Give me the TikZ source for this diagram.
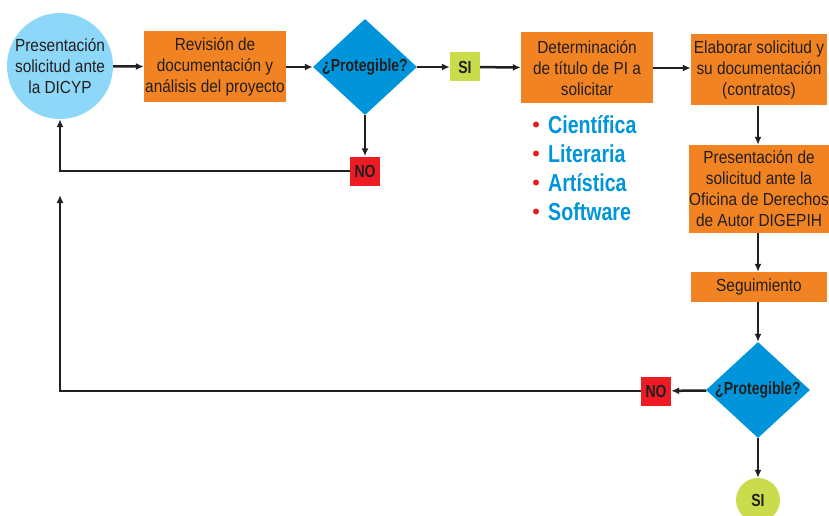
\documentclass[tikz,border=0pt]{standalone}
\usepackage{fontspec}
\setmainfont{Liberation Sans}[FakeStretch=0.88]
\newfontfamily\condbold{Liberation Sans}[FakeStretch=0.8]
\usetikzlibrary{shapes.geometric,arrows.meta}
\definecolor{ink}{HTML}{231F20}
\definecolor{naranja}{HTML}{F28322}
\definecolor{celeste}{HTML}{8DD8F8}
\definecolor{azul}{HTML}{0095DA}
\definecolor{rojo}{HTML}{ED1C24}
\definecolor{verde}{HTML}{CADB4B}
\begin{document}
\begin{tikzpicture}[x=1pt,y=-1pt,
    txt/.style={font=\fontsize{17.5pt}{21pt}\selectfont, text=ink, align=center, inner sep=0pt},
    negrita/.style={font=\fontsize{17.5pt}{21pt}\condbold\bfseries, text=ink, inner sep=0pt},
    inicio/.style={txt, circle, fill=celeste, minimum size=106pt},
    caja/.style={txt, fill=naranja, minimum width=136pt},
    decision/.style={diamond, fill=azul, minimum width=104pt, minimum height=96pt, inner sep=0pt,
      label={[negrita]center:¿Protegible?}},
    rechazo/.style={negrita, fill=rojo, minimum width=30pt, minimum height=29pt},
    acepta/.style={negrita, fill=verde, minimum width=30pt, minimum height=29pt},
    lista/.style={font=\fontsize{24.5pt}{29pt}\condbold\bfseries, text=azul, inner sep=0pt}]
  \useasboundingbox (0,0) rectangle (829,516);
  \path
    (60,66) node[inicio] (solic) {Presentación\\solicitud ante\\la DICYP}
    (215,67) node[caja, minimum width=142pt, minimum height=71pt] (revis) {Revisión de\\documentación y\\análisis del proyecto}
    (365,67) node[decision] (prot1) {}
    (365,171) node[rechazo] (no1) {NO}
    (465,67) node[acepta] (si1) {SI}
    (587,68) node[caja, minimum width=132pt, minimum height=71pt] (deter) {Determinación\\de título de PI a\\solicitar}
    (759,70) node[caja, minimum height=71pt] (elab) {Elaborar solicitud y\\su documentación\\(contratos)}
    (759,189) node[caja, minimum height=88pt] (pres) {Presentación de\\solicitud ante la\\Oficina de Derechos\\de Autor DIGEPIH}
    (759,287) node[caja, minimum height=30pt] (segui) {Seguimiento}
    (758,390) node[decision] (prot2) {}
    (656,391) node[rechazo] (no2) {NO}
    (758,500) node[acepta, circle, minimum size=44pt] (si2) {SI};
  \coordinate (vuelta) at (60,195);
  % tipos de titulo
  \foreach \tipo [count=\i] in {Científica,Literaria,Artística,Software} {
    \node[lista, anchor=base west] (tipo\i) at (548,{104+29*\i}) {\tipo};
    \fill[rojo] (536,{95.5+29*\i}) circle (3pt);
  }
  \begin{scope}[-{Latex[length=8pt,width=7pt]}, line width=2.5pt, draw=ink]
    \draw (solic) to (revis);
    \draw (revis) to (prot1);
    \draw (prot1) to (no1);
    \draw (no1.west) -| (solic.south);
    \draw (prot1) to (si1);
    \draw (si1) to (deter);
    \draw (deter.east) to (deter.east -| elab.west);
    \draw (elab.south -| prot2) to (pres.north -| prot2);
    \draw (pres.south -| prot2) to (segui.north -| prot2);
    \draw (segui.south -| prot2) to (prot2);
    \draw (prot2) to (no2);
    \draw (no2.west) -| (vuelta);
    \draw (prot2) to (si2);
  \end{scope}
\end{tikzpicture}
\end{document}
